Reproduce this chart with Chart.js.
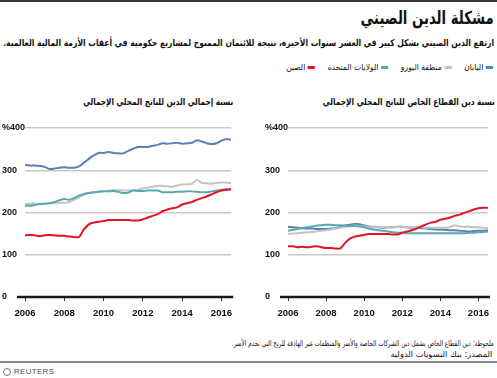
<!DOCTYPE html>
<html lang="ar">
<head>
<meta charset="utf-8">
<script src="https://cdn.jsdelivr.net/npm/chart.js@4/dist/chart.umd.min.js"></script>
<style>
  html, body { margin: 0; padding: 0; background: #fff; }
  #page { position: relative; width: 497px; height: 378px; overflow: hidden; background: #fff; font-family: "DejaVu Sans", "Liberation Sans", sans-serif; color: #111; }
  .rtl { direction: rtl; position: absolute; white-space: nowrap; transform-origin: right center; }
  #topline { position: absolute; left: 0; top: 0; width: 497px; height: 2px; background: #333; }
  #title { right: 3px; top: 7px; font-size: 18px; font-weight: bold; }
  #subtitle { right: 3px; top: 37px; font-size: 9.4px; font-weight: bold; }
  #legend { right: 4px; top: 62px; display: flex; gap: 14px; font-size: 8.5px; }
  .item { display: flex; align-items: center; gap: 3px; }
  .mk { display: inline-block; width: 8px; height: 3px; }
  .ctitle { top: 96px; font-size: 9.5px; font-weight: bold; }
  #note { right: 3px; top: 339px; font-size: 8px; }
  #src { right: 5px; top: 350px; font-size: 8px; }
  #botline { position: absolute; left: 0; top: 361px; width: 497px; height: 2px; background: #888; }
  #reuters { position: absolute; left: 3px; top: 367px; font-family: "Liberation Sans", sans-serif; font-size: 8px; color: #555; display: flex; align-items: center; gap: 3px; letter-spacing: 0.3px; }
  #reuters .logo { width: 8px; height: 8px; border-radius: 50%; border: 1.5px solid #777; box-sizing: border-box; }
  .cbox { position: absolute; }
</style>
</head>
<body>
<div id="page">
  <div id="topline"></div>
  <div class="rtl" id="title" data-w="133">مشكلة الدين الصيني</div>
  <div class="rtl" id="subtitle" data-w="491">ارتفع الدين الصيني بشكل كبير في العشر سنوات الأخيرة، نتيجة للائتمان الممنوح لمشاريع حكومية في أعقاب الأزمة المالية العالمية.</div>
  <div class="rtl" id="legend" data-w="207"></div>
  <div class="rtl ctitle" id="ltitle" style="right:264px" data-w="150">نسبة إجمالي الدين للناتج المحلي الإجمالي</div>
  <div class="rtl ctitle" id="rtitle" style="right:2px" data-w="172">نسبة دين القطاع الخاص للناتج المحلي الإجمالي</div>
  <div class="cbox" style="left:2px; top:118px; width:237px; height:204px;"><canvas id="c1"></canvas></div>
  <div class="cbox" style="left:265px; top:118px; width:231px; height:204px;"><canvas id="c2"></canvas></div>
  <div class="rtl" id="note" data-w="262">ملحوظة: دين القطاع الخاص يشمل دين الشركات الخاصة والأسر والمنظمات غير الهادفة للربح التي تخدم الأسر.</div>
  <div class="rtl" id="src" data-w="102">المصدر:  بنك التسويات الدولية</div>
  <div id="botline"></div>
  <div id="reuters"><span class="logo"></span><span>REUTERS</span></div>
</div>
<script>
// ---- data (quarterly, 2006 Q1 .. 2016 Q3 start) ----
const periods = [2006,2006.25,2006.5,2006.75,2007,2007.25,2007.5,2007.75,2008,2008.25,2008.5,2008.75,2009,2009.25,2009.5,2009.75,2010,2010.25,2010.5,2010.75,2011,2011.25,2011.5,2011.75,2012,2012.25,2012.5,2012.75,2013,2013.25,2013.5,2013.75,2014,2014.25,2014.5,2014.75,2015,2015.25,2015.5,2015.75,2016,2016.25,2016.5];
const tickYears = [2006, 2008, 2010, 2012, 2014, 2016];
const yTicks = [0, 100, 200, 300, 400];

const seriesNames = ["اليابان", "منطقة اليورو", "الولايات المتحدة", "الصين"];

// Total debt / GDP (%)
const totalJapan = [313,311,311,310,308,303,304,306,307,306,306,309,318,327,335,341,341,343,341,340,340,346,351,355,355,355,358,360,364,363,364,365,363,364,365,371,368,364,362,364,370,374,372];
const totalEuro  = [220,221,221,221,221,222,222,223,223,225,230,236,242,246,248,250,251,252,253,253,252,252,253,254,257,259,261,263,263,262,261,264,266,267,268,277,270,269,268,270,271,271,269];
const totalUS    = [216,216,218,220,221,222,225,229,232,230,234,240,244,246,248,249,250,250,251,249,246,247,252,251,251,252,252,252,248,248,248,249,249,250,250,249,248,248,250,252,254,255,255];
const totalChina = [146,147,146,144,146,147,146,145,145,143,142,142,160,172,176,178,180,182,182,182,182,182,181,181,184,188,192,196,203,207,210,212,219,222,225,230,234,238,243,248,252,254,255];

// Private sector debt / GDP (%)
const privJapan = [166,165,164,163,162,162,161,161,161,162,163,166,169,171,173,172,169,167,166,165,164,165,165,166,166,165,164,164,163,162,161,160,159,159,158,158,157,156,155,156,157,157,158];
const privEuro  = [149,150,151,152,153,154,155,157,158,160,162,164,166,168,169,168,167,166,165,165,165,165,165,166,166,165,165,165,165,164,164,164,164,164,165,170,167,166,166,165,165,164,164];
const privUS    = [157,159,161,163,165,167,169,170,171,171,170,170,169,168,168,167,165,162,160,158,157,155,153,152,152,151,151,151,151,151,151,151,151,151,151,151,151,151,152,152,153,154,155];
const privChina = [120,120,118,119,118,119,120,118,116,116,115,115,128,138,143,145,147,149,149,149,149,149,148,148,152,155,158,162,167,172,176,178,183,185,188,192,195,199,203,207,210,211,211];

const colors = ["#5b7fb6", "#c4c4c4", "#56aaad", "#e3141f"];

// ---- legend ----
const legend = document.getElementById('legend');
seriesNames.forEach((n, i) => {
  const it = document.createElement('div'); it.className = 'item';
  const mk = document.createElement('span'); mk.className = 'mk'; mk.style.background = colors[i];
  const tx = document.createElement('span'); tx.textContent = n;
  it.appendChild(mk); it.appendChild(tx); legend.appendChild(it);
});

// fit text blocks to the reference widths
document.querySelectorAll('[data-w]').forEach(el => {
  const target = parseFloat(el.dataset.w);
  const w = el.getBoundingClientRect().width;
  if (w > 0) el.style.transform = 'scaleX(' + (target / w) + ')';
});

const zeroLine = {
  id: 'zeroLine',
  beforeDatasetsDraw(chart) {
    const { ctx, chartArea, scales } = chart;
    const y = scales.y.getPixelForValue(0);
    ctx.save();
    ctx.strokeStyle = '#1a1a1a';
    ctx.lineWidth = 2.5;
    ctx.beginPath();
    ctx.moveTo(chartArea.left - 8, y);
    ctx.lineTo(chartArea.right + 2, y);
    ctx.stroke();
    ctx.restore();
  }
};

function makeChart(id, arrays) {
  const datasets = arrays.map((arr, i) => ({
    label: seriesNames[i],
    data: periods.map((p, k) => ({ x: p, y: arr[k] })),
    borderColor: colors[i],
    borderWidth: 2,
    pointRadius: 0,
    tension: 0.3,
    fill: false,
    order: 3 - i
  }));
  return new Chart(document.getElementById(id), {
    type: 'line',
    data: { datasets },
    plugins: [zeroLine],
    options: {
      responsive: true,
      maintainAspectRatio: false,
      animation: false,
      devicePixelRatio: 1,
      layout: { padding: { top: 10, left: 0, right: 0, bottom: 0 } },
      plugins: { legend: { display: false }, tooltip: { enabled: false } },
      scales: {
        x: {
          type: 'linear', min: 2006, max: 2016.5,
          afterBuildTicks: s => { s.ticks = tickYears.map(v => ({ value: v })); },
          afterFit: s => { s.height = 25; },
          grid: { drawOnChartArea: false, drawTicks: true, tickLength: 4, tickColor: '#333', tickWidth: 1 },
          border: { display: false },
          ticks: { padding: 7, color: '#111', font: { family: 'Liberation Sans', size: 9.5, weight: 'bold' }, maxRotation: 0, autoSkip: false, callback: v => String(v) }
        },
        y: {
          min: 0, max: 400,
          afterBuildTicks: s => { s.ticks = yTicks.map(v => ({ value: v })); },
          afterFit: s => { s.width = 23; },
          grid: { drawTicks: false, lineWidth: 1.5, color: c => c.tick && c.tick.value === 0 ? 'rgba(0,0,0,0)' : '#c9c9c9' },
          border: { display: false },
          ticks: { crossAlign: 'far', padding: 2, color: '#111', font: { family: 'Liberation Sans', size: 9, weight: 'bold' }, callback: v => v === 400 ? '%400' : String(v) }
        }
      }
    }
  });
}

makeChart('c1', [totalJapan, totalEuro, totalUS, totalChina]);
makeChart('c2', [privJapan, privEuro, privUS, privChina]);
</script>
</body>
</html>
